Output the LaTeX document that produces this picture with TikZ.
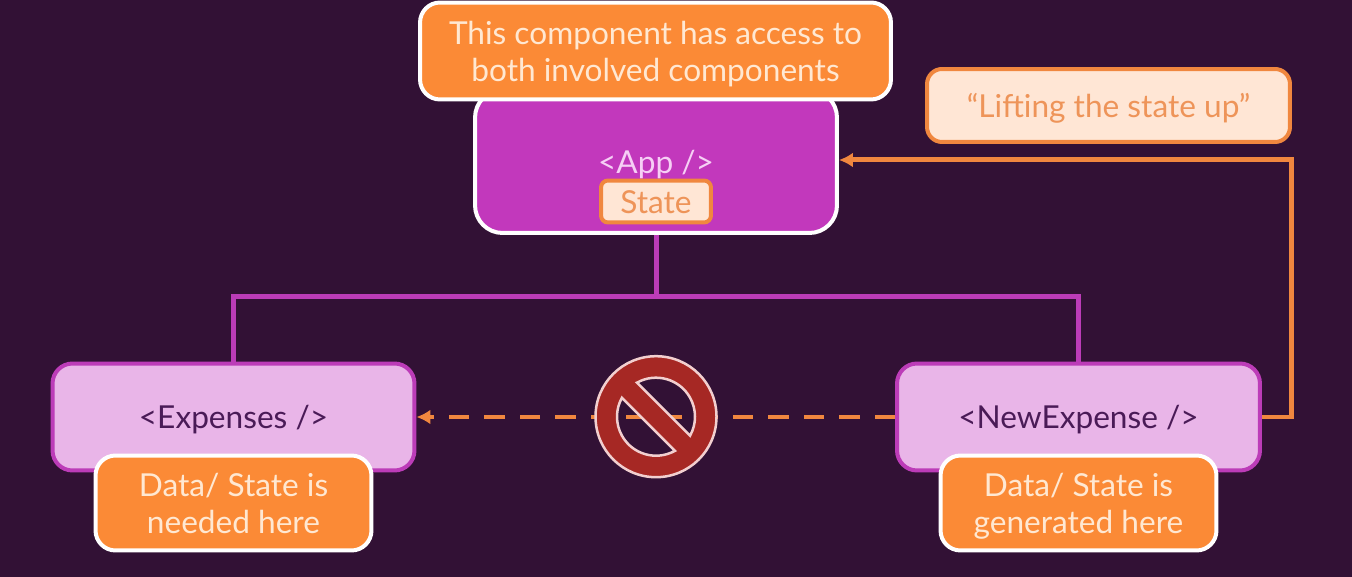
\documentclass[tikz,border=0pt]{standalone}
\usepackage{fontspec}
\setmainfont{Lato}
\usepackage{xcolor}
\usetikzlibrary{calc, arrows.meta}

\definecolor{darkbg}{HTML}{321135}
\definecolor{orangefill}{HTML}{FB8A36}
\definecolor{orangeline}{HTML}{F0873F}
\definecolor{creamfill}{HTML}{FFE6D5}
\definecolor{creamtext}{HTML}{FFE8D2}
\definecolor{creamlabel}{HTML}{EE9459}
\definecolor{purplefill}{HTML}{C238BC}
\definecolor{purpleline}{HTML}{BC3CB8}
\definecolor{lilacfill}{HTML}{E9B5E8}
\definecolor{lilactext}{HTML}{F6CFF5}
\definecolor{darktext}{HTML}{4A1B57}
\definecolor{signred}{HTML}{A62824}
\definecolor{signline}{HTML}{F2CFCF}

\newcommand{\linestrut}{\rule[-0.13cm]{0pt}{0.73cm}}

\tikzset{
  boxbase/.style={rectangle, rounded corners=0.4cm, line width=0.08cm, align=center, inner sep=0pt,
                  font=\fontsize{18}{21}\selectfont},
  notebox/.style={boxbase, draw=white, fill=orangefill, text=creamtext},
  appbox/.style={boxbase, rounded corners=0.55cm, draw=white, fill=purplefill, text=lilactext},
  childbox/.style={boxbase, draw=purpleline, fill=lilacfill, text=darktext},
  creambox/.style={boxbase, draw=orangeline, fill=creamfill, text=creamlabel},
  treeline/.style={line width=0.1cm, purpleline},
  liftline/.style={line width=0.1cm, orangeline},
  lifttip/.style={-{Latex[length=0.28cm, width=0.3cm]}},
}

\begin{document}
\begin{tikzpicture}[x=0.02cm, y=-0.02cm]
  % Background
  \fill[darkbg] (0, 0) rectangle (1352, 577);
  \useasboundingbox (0, 0) rectangle (1352, 577);

  % App and its notes
  \node[appbox, minimum width=7.24cm, minimum height=2.86cm] (app) at (656, 161.5) {\linestrut<App />};
  \node[creambox, rounded corners=0.14cm, minimum width=2.2cm, minimum height=0.84cm] (state) at (656, 201.5) {\linestrut State};
  \node[notebox, minimum width=9.42cm, minimum height=1.94cm] (access) at (655.5, 51) {\linestrut This component has access to\\\linestrut both involved components};
  \node[creambox, rounded corners=0.3cm, minimum width=7.26cm, minimum height=1.46cm] (lifting) at (1108.5, 105.5) {\linestrut“Lifting the state up”};

  % Children
  \node[childbox, minimum width=7.24cm, minimum height=2.14cm] (expenses) at (233.5, 417) {\linestrut<Expenses />};
  \node[childbox, minimum width=7.26cm, minimum height=2.14cm] (newexpense) at (1078.5, 417) {\linestrut<NewExpense />};

  % Tree lines
  \coordinate (bus) at (656, 297);
  \draw[treeline] (app.south) -- (bus);
  \draw[treeline] (bus) -| (expenses.north);
  \draw[treeline] (bus) -| (newexpense.north);

  % Lifting the state
  \coordinate (liftcorner) at (1291, 160);
  \draw[liftline, lifttip] (newexpense.east) -| (liftcorner) -- (app.east |- liftcorner);
  \draw[liftline, dash pattern=on 0.41cm off 0.3cm, lifttip] (newexpense.west) -- (expenses.east);

  % Data notes
  \node[notebox, minimum width=5.52cm, minimum height=1.9cm] (needed) at (233.5, 503) {\linestrut Data/ State is\\\linestrut needed here};
  \node[notebox, minimum width=5.52cm, minimum height=1.9cm] (generated) at (1078.5, 503) {\linestrut Data/ State is\\\linestrut generated here};

  % Forbidden sign
  \coordinate (nosign) at (656, 416.7);
  \path[fill=signred, draw=signline, line width=0.05cm, even odd rule]
       (nosign) circle (60.5)
       ($(nosign) + (-119.1:39)$) arc (-119.1:29.1:39) -- cycle
       ($(nosign) + (60.9:39)$) arc (60.9:209.1:39) -- cycle;
\end{tikzpicture}
\end{document}
